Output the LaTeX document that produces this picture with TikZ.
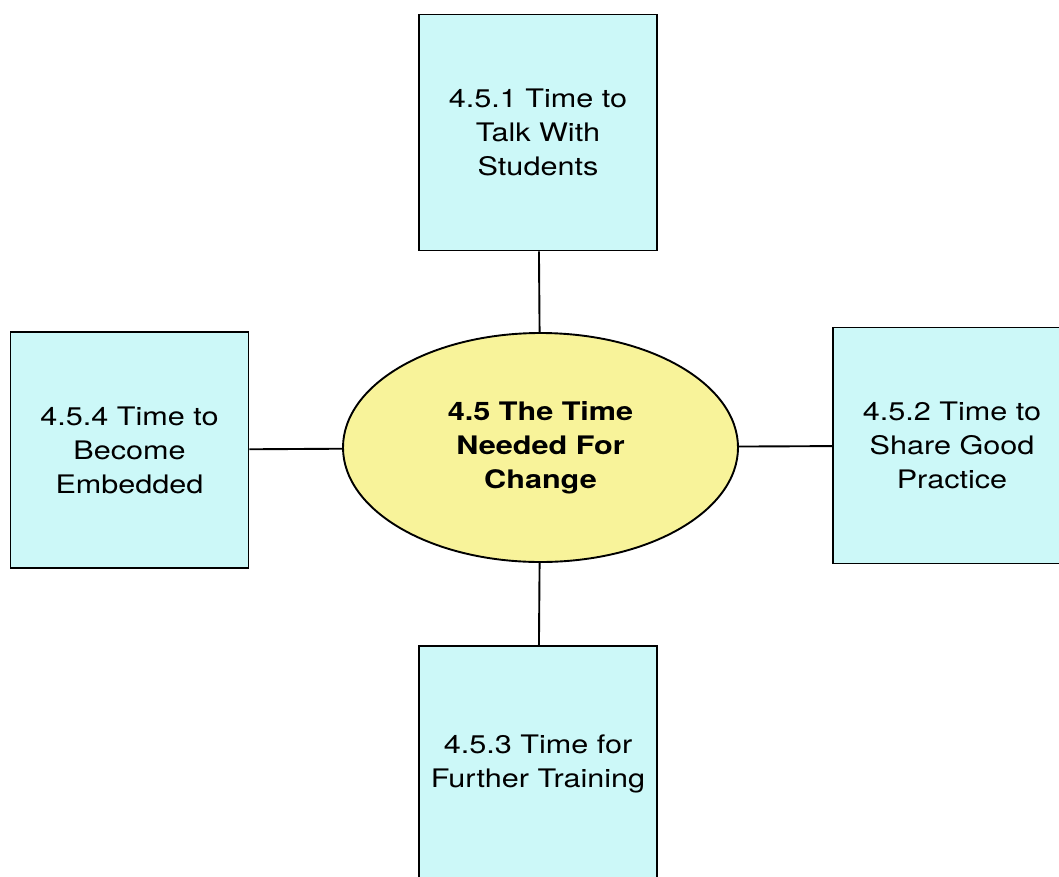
\documentclass[tikz,border=0pt]{standalone}
\usepackage{fontspec}
\setmainfont[FakeStretch=1.2]{TeX Gyre Heros}
\usepackage{tikz}
\usetikzlibrary{positioning, shapes.geometric}

\definecolor{topicfill}{HTML}{CCF8F8}
\definecolor{hubfill}{HTML}{F8F39A}

\tikzset{
	topic/.style={draw, line width=1.9pt, fill=topicfill, shape=rectangle, align=center,
		minimum width=238pt, minimum height=236pt, inner sep=0pt,
		font=\fontsize{25.5}{34}\selectfont},
	hub/.style={draw, line width=1.9pt, fill=hubfill, shape=ellipse, align=center,
		minimum width=395pt, minimum height=229pt, inner sep=0pt,
		font=\fontsize{25.5}{34}\selectfont\bfseries},
	link/.style={line width=1.9pt}
}

\begin{document}
\begin{tikzpicture}[x=1pt, y=-1pt]
\useasboundingbox (0, 0) rectangle (1059, 876);
\clip (0, 0) rectangle (1059, 876);
\node[hub] (hub) at (540.5, 447.5) {4.5 The Time\\Needed For\\Change};
\node[topic] (topic 1) at (538, 132.5) {4.5.1 Time to\\Talk With\\Students};
\node[topic] (topic 2) at (952, 445.5) {4.5.2 Time to\\Share Good\\Practice};
\node[topic] (topic 3) at (538, 764) {4.5.3 Time for\\Further Training};
\node[topic] (topic 4) at (129.5, 450) {4.5.4 Time to\\Become\\Embedded};
\foreach \k in {1, 2, 3, 4}
	\draw[link] (hub) -- (topic \k);
\end{tikzpicture}
\end{document}
